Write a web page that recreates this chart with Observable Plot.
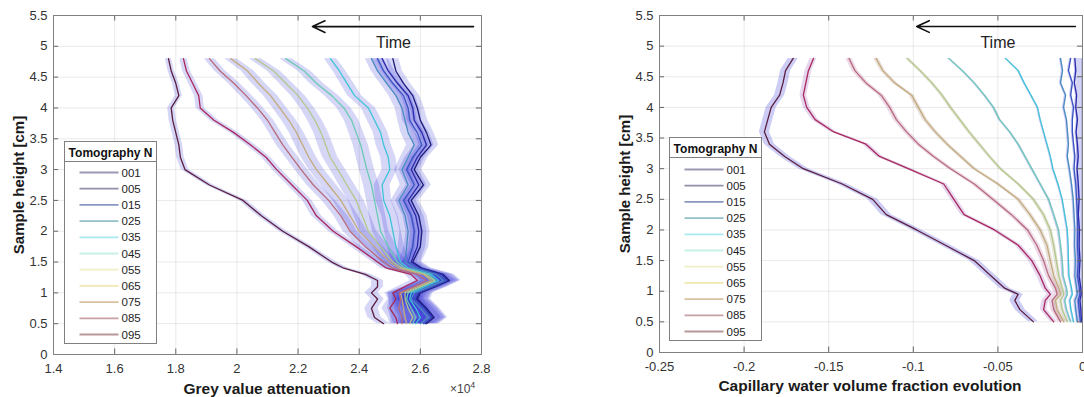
<!DOCTYPE html>
<html><head><meta charset="utf-8">
<script src="https://cdn.jsdelivr.net/npm/d3@7"></script>
<script src="https://cdn.jsdelivr.net/npm/@observablehq/plot@0.6"></script>
<style>
body{margin:0;background:#fff;font-family:"Liberation Sans",Arial,sans-serif;}
#wrap{position:relative;width:1084px;height:397px;overflow:hidden;background:#fff;}
.panel{position:absolute;top:0;}
.ylab{position:absolute;font-weight:bold;font-size:15px;transform:translate(-50%,-50%) rotate(-90deg);white-space:nowrap;color:#1a1a1a;}
.xlab{position:absolute;font-weight:bold;font-size:15.5px;transform:translate(-50%,-50%);white-space:nowrap;color:#1a1a1a;}
.exp{position:absolute;font-size:12px;color:#444;white-space:nowrap;}
.legend{position:absolute;}
</style></head>
<body><div id="wrap"></div>
<script>
// ---------- categories & styles ----------
const tomography = ["001","005","015","025","035","045","055","065","075","085","095"];
const lineColors = ["#1c1c7a","#2a2aa8","#3a55c0","#4a8cc0","#40c4d8","#6ccab4","#b4c88c","#c4aa7c","#b86a78","#a8285a","#5a1e3e"];
const legendColors = ["#9c98b4","#9090a8","#8898c0","#90c0c8","#a8e8f0","#c8f0e8","#f0f0c8","#f0e8b0","#d8c0a0","#c8a0a8","#b89898"];

// ---------- left panel: grey value attenuation (x 10^4) ----------
const heightsL = [4.8, 4.6, 4.4, 4.2, 4.0, 3.8, 3.6, 3.4, 3.2, 3.0, 2.75, 2.5, 2.25, 2.0, 1.75, 1.5, 1.4, 1.3, 1.2, 1.1, 1.0, 0.9, 0.75, 0.6, 0.5];
const grey001 = [2.51, 2.52, 2.545, 2.575, 2.59, 2.60, 2.62, 2.635, 2.60, 2.58, 2.61, 2.57, 2.595, 2.605, 2.60, 2.575, 2.605, 2.675, 2.695, 2.65, 2.60, 2.59, 2.62, 2.645, 2.62];
const grey005 = [2.475, 2.495, 2.525, 2.56, 2.575, 2.58, 2.605, 2.62, 2.59, 2.57, 2.595, 2.56, 2.585, 2.595, 2.59, 2.57, 2.60, 2.67, 2.69, 2.645, 2.595, 2.585, 2.615, 2.64, 2.615];
const grey015 = [2.46, 2.48, 2.51, 2.545, 2.56, 2.565, 2.59, 2.605, 2.575, 2.555, 2.58, 2.545, 2.57, 2.58, 2.575, 2.56, 2.59, 2.66, 2.685, 2.64, 2.59, 2.58, 2.61, 2.635, 2.61];
const grey025 = [2.44, 2.46, 2.49, 2.52, 2.54, 2.55, 2.56, 2.58, 2.56, 2.54, 2.56, 2.53, 2.55, 2.56, 2.555, 2.55, 2.58, 2.65, 2.675, 2.63, 2.58, 2.57, 2.60, 2.625, 2.60];
const grey035 = [2.306, 2.335, 2.36, 2.385, 2.43, 2.45, 2.47, 2.48, 2.495, 2.50, 2.475, 2.48, 2.50, 2.51, 2.52, 2.535, 2.56, 2.635, 2.66, 2.615, 2.57, 2.565, 2.585, 2.60, 2.585];
const grey045 = [2.16, 2.22, 2.26, 2.31, 2.35, 2.375, 2.39, 2.405, 2.415, 2.425, 2.44, 2.45, 2.46, 2.47, 2.495, 2.525, 2.55, 2.625, 2.65, 2.605, 2.56, 2.555, 2.57, 2.585, 2.575];
const grey055 = [2.06, 2.12, 2.16, 2.20, 2.23, 2.255, 2.275, 2.29, 2.305, 2.33, 2.36, 2.39, 2.41, 2.43, 2.47, 2.51, 2.54, 2.615, 2.645, 2.60, 2.55, 2.55, 2.56, 2.575, 2.565];
const grey065 = [1.98, 2.035, 2.07, 2.11, 2.14, 2.17, 2.195, 2.215, 2.235, 2.26, 2.30, 2.34, 2.37, 2.40, 2.45, 2.50, 2.53, 2.61, 2.635, 2.59, 2.535, 2.54, 2.545, 2.55, 2.555];
const grey075 = [1.91, 1.945, 1.99, 2.03, 2.067, 2.10, 2.125, 2.15, 2.18, 2.21, 2.25, 2.30, 2.34, 2.37, 2.42, 2.48, 2.51, 2.59, 2.62, 2.58, 2.53, 2.535, 2.53, 2.54, 2.54];
const grey085 = [1.825, 1.835, 1.855, 1.875, 1.88, 1.925, 1.99, 2.045, 2.095, 2.13, 2.18, 2.23, 2.26, 2.315, 2.39, 2.46, 2.49, 2.57, 2.59, 2.55, 2.51, 2.52, 2.50, 2.52, 2.525];
const grey095 = [1.776, 1.785, 1.80, 1.81, 1.785, 1.79, 1.80, 1.81, 1.815, 1.83, 1.91, 2.02, 2.08, 2.15, 2.235, 2.31, 2.35, 2.42, 2.46, 2.46, 2.44, 2.46, 2.44, 2.45, 2.48];
const greySeries = [grey001, grey005, grey015, grey025, grey035, grey045, grey055, grey065, grey075, grey085, grey095];
// half-width of the uncertainty band at each height, and per-curve scale
const greySpread = [0.02, 0.021, 0.022, 0.023, 0.023, 0.024, 0.024, 0.025, 0.025, 0.025, 0.026, 0.026, 0.027, 0.027, 0.028, 0.03, 0.032, 0.035, 0.038, 0.04, 0.042, 0.043, 0.044, 0.044, 0.042];
const greySpreadScale = [1, 1, 1, 1, 1, 1, 1, 1, 0.85, 0.6, 0.5];

// ---------- right panel: capillary water volume fraction evolution ----------
const heightsR = [4.8, 4.6, 4.4, 4.2, 4.0, 3.8, 3.6, 3.4, 3.2, 3.0, 2.75, 2.5, 2.25, 2.0, 1.75, 1.5, 1.25, 1.05, 0.95, 0.85, 0.7, 0.5];
const cap001 = [0, 0, 0, 0, 0, 0, 0, 0, 0, 0, 0, 0, 0, 0, 0, 0, 0, 0, 0, 0, 0, 0];
const cap005 = [-0.0045, -0.004, -0.0048, -0.0035, -0.004, -0.003, -0.0038, -0.003, -0.0025, -0.0032, -0.0025, -0.002, -0.0025, -0.0018, -0.002, -0.0015, -0.002, -0.001, -0.0008, -0.0015, -0.001, -0.0006];
const cap015 = [-0.007, -0.0083, -0.006, -0.007, -0.0053, -0.006, -0.006, -0.0053, -0.0045, -0.005, -0.004, -0.0035, -0.003, -0.0028, -0.003, -0.0025, -0.003, -0.0018, -0.0015, -0.0025, -0.002, -0.0012];
const cap025 = [-0.013, -0.0118, -0.013, -0.010, -0.0112, -0.0095, -0.0089, -0.0083, -0.009, -0.0078, -0.0065, -0.0055, -0.005, -0.0045, -0.0047, -0.0042, -0.0045, -0.0035, -0.003, -0.0045, -0.004, -0.003];
const cap035 = [-0.0455, -0.038, -0.0345, -0.0305, -0.0266, -0.025, -0.023, -0.021, -0.019, -0.0175, -0.0145, -0.012, -0.0105, -0.009, -0.0085, -0.0083, -0.008, -0.0065, -0.006, -0.0075, -0.0068, -0.0053];
const cap045 = [-0.079, -0.071, -0.064, -0.058, -0.0526, -0.049, -0.043, -0.038, -0.034, -0.030, -0.025, -0.020, -0.017, -0.0142, -0.013, -0.012, -0.0115, -0.0095, -0.009, -0.0105, -0.0095, -0.007];
const cap055 = [-0.1035, -0.096, -0.089, -0.083, -0.078, -0.0725, -0.067, -0.061, -0.055, -0.0485, -0.038, -0.029, -0.023, -0.019, -0.017, -0.0155, -0.014, -0.012, -0.011, -0.013, -0.012, -0.009];
const cap065 = [-0.122, -0.118, -0.111, -0.101, -0.097, -0.093, -0.087, -0.080, -0.072, -0.064, -0.050, -0.038, -0.031, -0.025, -0.021, -0.019, -0.017, -0.014, -0.013, -0.016, -0.015, -0.011];
const cap075 = [-0.138, -0.1345, -0.128, -0.119, -0.114, -0.110, -0.104, -0.097, -0.088, -0.078, -0.064, -0.053, -0.042, -0.0325, -0.027, -0.023, -0.020, -0.016, -0.015, -0.018, -0.017, -0.013];
const cap085 = [-0.159, -0.162, -0.1635, -0.165, -0.163, -0.158, -0.147, -0.128, -0.12, -0.103, -0.082, -0.076, -0.070, -0.052, -0.038, -0.030, -0.025, -0.022, -0.019, -0.022, -0.023, -0.017];
const cap095 = [-0.171, -0.1755, -0.177, -0.179, -0.184, -0.186, -0.188, -0.185, -0.176, -0.165, -0.142, -0.124, -0.116, -0.098, -0.081, -0.064, -0.054, -0.046, -0.038, -0.040, -0.037, -0.029];
const capSeries = [cap001, cap005, cap015, cap025, cap035, cap045, cap055, cap065, cap075, cap085, cap095];
const capSpread = [0.0035, 0.0007, 0.0007, 0.0007, 0.0006, 0.0008, 0.0012, 0.0015, 0.0018, 0.002, 0.003];
const capBandColors = ["#2a2ad0","#0000cd","#0000cd","#0000cd","#0000cd","#0000cd","#7a7a40","#8a6a50","#a04090","#8030b0","#0000cd"];

// ---------- ticks & annotations ----------
const yTicks = [0, 0.5, 1, 1.5, 2, 2.5, 3, 3.5, 4, 4.5, 5, 5.5];
const xTicksL = [1.4, 1.6, 1.8, 2, 2.2, 2.4, 2.6, 2.8];
const xTicksR = [-0.25, -0.2, -0.15, -0.1, -0.05, 0];
const arrowL = [{x1: 2.774, x2: 2.247, y: 5.32}];
const arrowR = [{x1: -0.0042, x2: -0.098, y: 5.32}];
const timeL = [{x: 2.512, y: 5.06, t: "Time"}];
const timeR = [{x: -0.050, y: 5.06, t: "Time"}];

const fmt = d => String(+d.toFixed(2));
const wrap = document.getElementById("wrap");

function buildRows(heights, values, spreadAt) {
  return heights.map((h, j) => ({h, v: values[j], lo: values[j] - spreadAt(j), hi: values[j] + spreadAt(j)}));
}

function makePanel({series, heights, spreadFor, bandColor, bandOpacity, xDomain, xTicks, marginLeft, marginRight, marginBottom, arrow, time}) {
  const x0 = xDomain[0], x1 = xDomain[1];
  const tx = (x1 - x0) * 0.012, ty = 0.09;
  const marks = [
    Plot.gridX(xTicks, {stroke: "#000", strokeOpacity: 0.085}),
    Plot.gridY(yTicks, {stroke: "#000", strokeOpacity: 0.085}),
  ];
  series.forEach((vals, i) => {
    const rows = buildRows(heights, vals, j => spreadFor(i, j));
    marks.push(Plot.areaX(rows, {y: "h", x1: "lo", x2: "hi", fill: bandColor(i), fillOpacity: bandOpacity, clip: true}));
  });
  series.forEach((vals, i) => {
    const rows = buildRows(heights, vals, () => 0);
    marks.push(Plot.lineX(rows, {x: "v", y: "h", stroke: lineColors[i], strokeWidth: 1.3, clip: true}));
  });
  marks.push(
    Plot.ruleX(xTicks, {x: d => d, y1: 0, y2: ty, stroke: "#666"}),
    Plot.ruleX(xTicks, {x: d => d, y1: 5.5 - ty, y2: 5.5, stroke: "#666"}),
    Plot.ruleY(yTicks, {y: d => d, x1: x0, x2: x0 + tx, stroke: "#666"}),
    Plot.ruleY(yTicks, {y: d => d, x1: x1 - tx, x2: x1, stroke: "#666"}),
    Plot.frame({stroke: "#808080"}),
    Plot.axisX(xTicks, {tickSize: 0, tickPadding: 9, tickFormat: fmt, label: null, fill: "#333"}),
    Plot.axisY(yTicks, {tickSize: 0, tickPadding: 6, tickFormat: fmt, label: null, fill: "#333"}),
    Plot.arrow(arrow, {x1: "x1", x2: "x2", y1: "y", y2: "y", stroke: "#111", strokeWidth: 1.6, headLength: 13, headAngle: 50}),
    Plot.text(time, {x: "x", y: "y", text: "t", fontSize: 16, fill: "#222"})
  );
  return Plot.plot({
    width: 542, height: 397,
    marginLeft, marginRight, marginTop: 15, marginBottom,
    x: {domain: xDomain}, y: {domain: [0, 5.5]},
    style: {fontSize: "13px", fontFamily: "Liberation Sans, Arial, sans-serif", background: "transparent"},
    marks
  });
}

const left = makePanel({
  series: greySeries, heights: heightsL,
  spreadFor: (i, j) => greySpread[j] * greySpreadScale[i],
  bandColor: () => "#0000cd", bandOpacity: 0.16,
  xDomain: [1.4, 2.8], xTicks: xTicksL,
  marginLeft: 53, marginRight: 61, marginBottom: 43,
  arrow: arrowL, time: timeL
});
left.classList.add("panel"); left.style.left = "0px";
wrap.appendChild(left);

const right = makePanel({
  series: capSeries, heights: heightsR,
  spreadFor: (i) => capSpread[i],
  bandColor: i => capBandColors[i], bandOpacity: 0.2,
  xDomain: [-0.25, 0], xTicks: xTicksR,
  marginLeft: 117, marginRight: 2, marginBottom: 45,
  arrow: arrowR, time: timeR
});
right.classList.add("panel"); right.style.left = "542px";
wrap.appendChild(right);

// axis titles
function addDiv(cls, text, x, y) {
  const d = document.createElement("div");
  d.className = cls; d.style.left = x + "px"; d.style.top = y + "px"; d.innerHTML = text;
  wrap.appendChild(d); return d;
}
addDiv("ylab", "Sample height [cm]", 18, 185);
addDiv("ylab", "Sample height [cm]", 624, 184);
addDiv("xlab", "Grey value attenuation", 267, 389);
addDiv("xlab", "Capillary water volume fraction evolution", 870, 386);
addDiv("exp", "&times;10<sup style=\"font-size:9px\">4</sup>", 450, 380);

// legends
function legend(x, y, w, h, firstRow) {
  const svg = d3.create("svg").attr("width", w + 2).attr("height", h + 2)
    .attr("class", "legend").style("left", x + "px").style("top", y + "px");
  const g = svg.append("g").attr("transform", "translate(0.5,0.5)");
  g.append("rect").attr("width", w).attr("height", h).attr("fill", "#fff").attr("stroke", "#808080");
  g.append("line").attr("x1", 0).attr("x2", w).attr("y1", 20).attr("y2", 20).attr("stroke", "#808080");
  g.append("text").attr("x", w / 2).attr("y", 11).attr("text-anchor", "middle").attr("dominant-baseline", "central")
    .attr("font-size", 12).attr("font-weight", "bold").attr("font-family", "Liberation Sans, Arial, sans-serif").attr("fill", "#111").text("Tomography N");
  tomography.forEach((t, i) => {
    const yy = firstRow + i * 16.2;
    g.append("line").attr("x1", 15).attr("x2", 54).attr("y1", yy).attr("y2", yy)
      .attr("stroke", legendColors[i]).attr("stroke-width", 1.8);
    g.append("text").attr("x", 57).attr("y", yy).attr("dominant-baseline", "central")
      .attr("font-size", 11.5).attr("font-family", "Liberation Sans, Arial, sans-serif").attr("fill", "#222").text(t);
  });
  wrap.appendChild(svg.node());
}
legend(64, 141, 92, 202, 31);
legend(669, 137, 92, 203, 32);
</script></body></html>
